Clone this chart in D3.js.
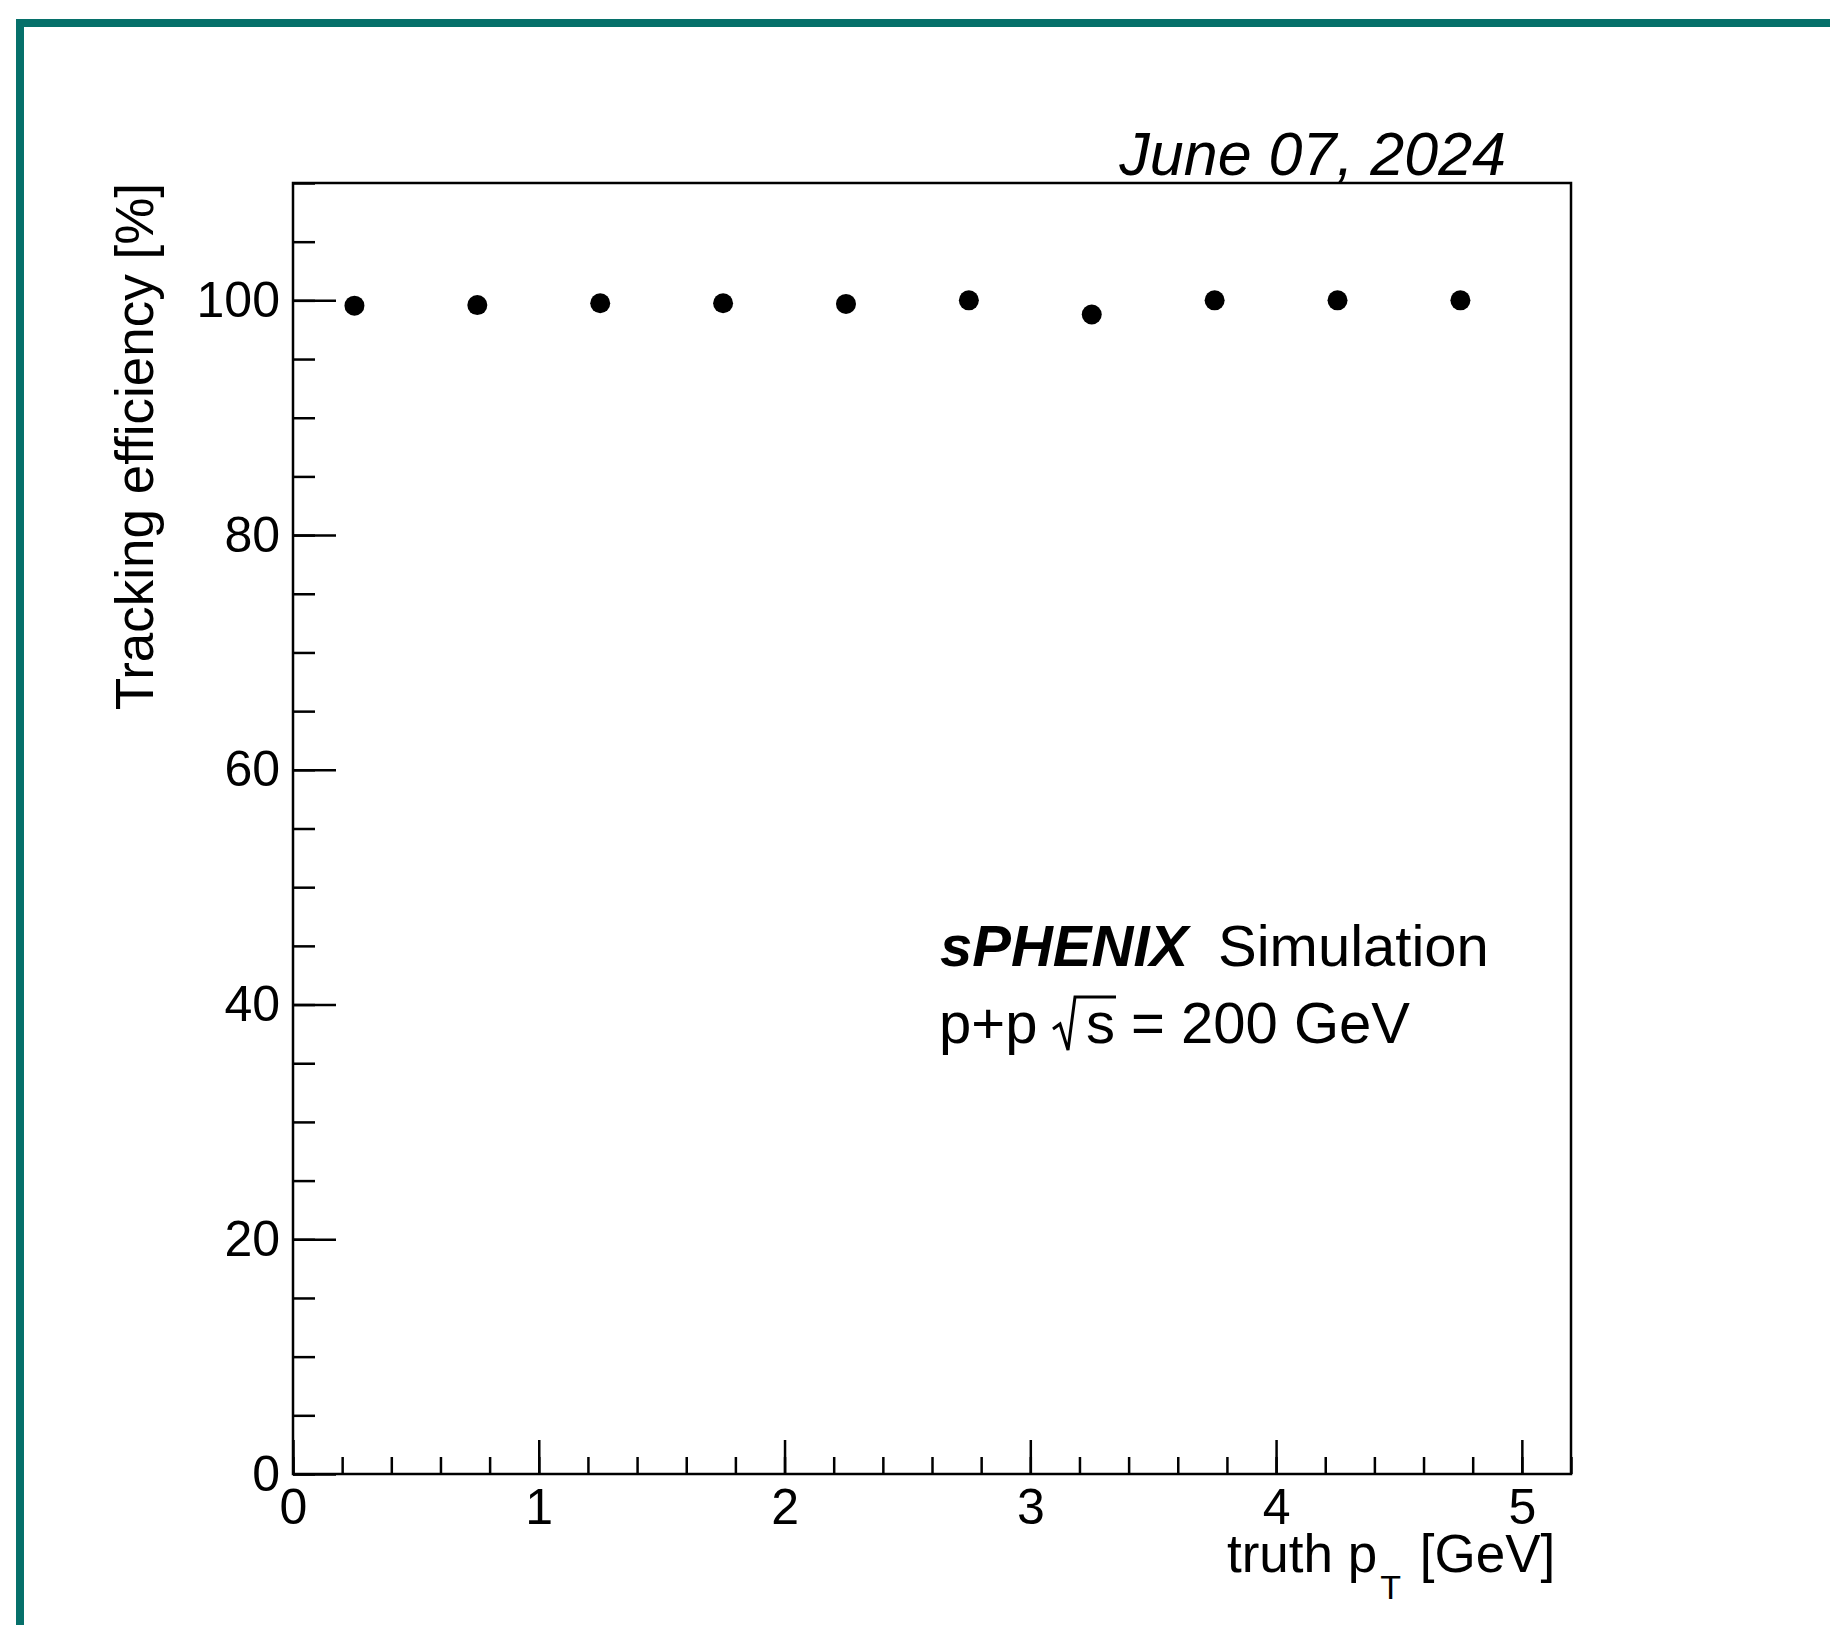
<!DOCTYPE html>
<html lang="en">
<head>
  <meta charset="UTF-8">
  <script src="https://cdn.jsdelivr.net/npm/d3@7"></script>
  <title>Tracking efficiency vs truth pT</title>
  <style>
    body { margin: 0; background: #fff; }
    svg text { font-family: "Liberation Sans", Arial, Helvetica, sans-serif; fill: #000; }
  </style>
</head>
<body>
<svg id="chart" width="1830" height="1625"></svg>
<script>
  // data
  const ptBins = [0.25, 0.75, 1.25, 1.75, 2.25, 2.75, 3.25, 3.75, 4.25, 4.75];
  const efficiency = [99.55, 99.6, 99.75, 99.75, 99.7, 100, 98.8, 100, 100, 100];
  const xTicks = [0, 1, 2, 3, 4, 5];
  const yTicks = [0, 20, 40, 60, 80, 100];
  const xMinor = d3.range(0, 5.21, 0.2);
  const yMinor = d3.range(0, 110.1, 5);

  let svg = d3.select("#chart");

  // teal page frame
  svg.append("rect")
    .attr("x", 20).attr("y", 23)
    .attr("width", 1900).attr("height", 1700)
    .attr("fill", "none")
    .attr("stroke", "#06706a")
    .attr("stroke-width", 8);

  /* SCALES */
  let margin = {left: 293, top: 183, right: 1571, bottom: 1474};
  let scaleX = d3.scaleLinear().domain([0, 5.2]).range([margin.left, margin.right]);
  let scaleY = d3.scaleLinear().domain([0, 110]).range([margin.bottom, margin.top]);

  /* AXES */
  // minor ticks first, majors drawn on top
  let xMinorAxis = d3.axisBottom(scaleX).tickValues(xMinor).tickSizeInner(-17).tickSizeOuter(0).tickFormat("");
  let xAxis = d3.axisBottom(scaleX).tickValues(xTicks).tickSizeInner(-34).tickSizeOuter(0)
    .tickPadding(14).tickFormat(d3.format("d"));
  let yMinorAxis = d3.axisLeft(scaleY).tickValues(yMinor).tickSizeInner(-22).tickSizeOuter(0).tickFormat("");
  let yAxis = d3.axisLeft(scaleY).tickValues(yTicks).tickSizeInner(-43).tickSizeOuter(0)
    .tickPadding(13).tickFormat(d3.format("d"));

  let gx1 = svg.append("g").attr("transform", `translate(0,${margin.bottom})`).call(xMinorAxis);
  let gx2 = svg.append("g").attr("transform", `translate(0,${margin.bottom})`).call(xAxis);
  let gy1 = svg.append("g").attr("transform", `translate(${margin.left},0)`).call(yMinorAxis);
  let gy2 = svg.append("g").attr("transform", `translate(${margin.left},0)`).call(yAxis);

  [gx1, gx2, gy1, gy2].forEach(g => {
    g.select(".domain").remove();
    g.selectAll("line").attr("stroke", "#000").attr("stroke-width", 2.5);
    g.selectAll("text").attr("font-size", 50).attr("font-family", "Liberation Sans, Arial, sans-serif");
  });

  // plot frame
  svg.append("rect")
    .attr("x", margin.left).attr("y", margin.top)
    .attr("width", margin.right - margin.left)
    .attr("height", margin.bottom - margin.top)
    .attr("fill", "none")
    .attr("stroke", "#000")
    .attr("stroke-width", 2.5);

  /* POINTS */
  svg.append("g").selectAll("circle")
    .data(ptBins.map((p, i) => ({pt: p, eff: efficiency[i]})))
    .enter()
    .append("circle")
    .attr("cx", d => scaleX(d.pt))
    .attr("cy", d => scaleY(d.eff))
    .attr("r", 10)
    .attr("fill", "#000");

  /* TITLES */
  svg.append("text")
    .attr("transform", "translate(153,183) rotate(-90)")
    .attr("text-anchor", "end")
    .attr("font-size", 53)
    .text("Tracking efficiency [%]");

  let xt = svg.append("text")
    .attr("x", 1227).attr("y", 1572)
    .attr("font-size", 53);
  xt.append("tspan").text("truth p");
  xt.append("tspan").attr("font-size", 34).attr("dx", 3).attr("dy", 27).text("T");
  xt.append("tspan").attr("dy", -27).attr("dx", 4).text(" [GeV]");

  svg.append("text")
    .attr("x", 1506).attr("y", 175)
    .attr("text-anchor", "end")
    .attr("font-size", 61)
    .attr("font-style", "italic")
    .text("June 07, 2024");

  /* LABEL */
  let lab = svg.append("text")
    .attr("x", 940).attr("y", 966)
    .attr("font-size", 58);
  lab.append("tspan").attr("font-weight", "bold").attr("font-style", "italic").text("sPHENIX");
  lab.append("tspan").attr("x", 1218).text("Simulation");

  svg.append("text")
    .attr("x", 939).attr("y", 1043)
    .attr("font-size", 58)
    .text("p+p");
  svg.append("path")
    .attr("d", "M1053,1029 L1060,1024 L1068,1050 L1075,997 L1116,997")
    .attr("fill", "none")
    .attr("stroke", "#000")
    .attr("stroke-width", 3);
  svg.append("text")
    .attr("x", 1086).attr("y", 1043)
    .attr("font-size", 58)
    .text("s = 200 GeV");
</script>
</body>
</html>
